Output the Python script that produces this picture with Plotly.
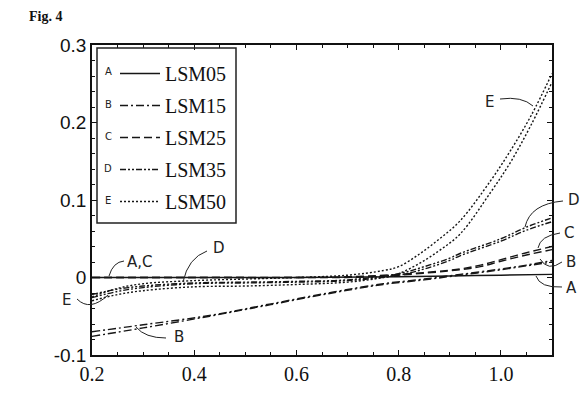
import plotly.graph_objects as go

# ---- data ----
x_A = [0.2, 0.4, 0.6, 0.8, 0.9, 1.0, 1.1]
y_A = [0.0, 0.0, 0.0, 0.001, 0.002, 0.003, 0.004]

x_B = [0.2, 0.3, 0.43, 0.55, 0.67, 0.77, 0.85, 0.92, 1.0, 1.05, 1.1]
y_B1 = [-0.070, -0.061, -0.049, -0.034, -0.019, -0.008, -0.002, 0.004, 0.011, 0.016, 0.022]
y_B2 = [-0.076, -0.065, -0.050, -0.035, -0.020, -0.009, -0.003, 0.003, 0.010, 0.015, 0.020]

x_C = [0.2, 0.4, 0.6, 0.7, 0.8, 0.92, 0.96, 1.0, 1.05, 1.1]
y_C1 = [0.0, 0.0, 0.0, 0.001, 0.004, 0.011, 0.016, 0.023, 0.032, 0.040]
y_C2 = [0.0, 0.0, 0.0, 0.000, 0.003, 0.010, 0.014, 0.021, 0.029, 0.036]

x_D = [0.2, 0.25, 0.3, 0.4, 0.5, 0.6, 0.7, 0.8, 0.85, 0.9, 0.92, 1.0, 1.05, 1.1]
y_D1 = [-0.022, -0.015, -0.011, -0.007, -0.006, -0.005, -0.003, 0.005, 0.014, 0.025, 0.031, 0.050, 0.065, 0.077]
y_D2 = [-0.026, -0.018, -0.013, -0.008, -0.007, -0.006, -0.004, 0.003, 0.011, 0.022, 0.028, 0.047, 0.061, 0.072]

x_E = [0.2, 0.25, 0.3, 0.4, 0.5, 0.6, 0.7, 0.77, 0.8, 0.84, 0.88, 0.92, 0.98, 1.02, 1.06, 1.1]
y_E1 = [-0.025, -0.014, -0.008, -0.004, -0.002, 0.000, 0.003, 0.009, 0.014, 0.030, 0.050, 0.073, 0.125, 0.165, 0.210, 0.263]
y_E2 = [-0.030, -0.022, -0.017, -0.012, -0.011, -0.009, -0.006, 0.000, 0.005, 0.018, 0.035, 0.056, 0.110, 0.150, 0.198, 0.252]

legend_names = ["LSM05", "LSM15", "LSM25", "LSM35", "LSM50"]
letters = ["A", "B", "C", "D", "E"]
dashes = ["solid", "8px,3px,2px,3px", "8px,4px", "6px,2px,2px,2px,2px,2px", "2px,2px"]

x_ticks = [0.2, 0.4, 0.6, 0.8, 1.0]
x_tick_text = ["0.2", "0.4", "0.6", "0.8", "1.0"]
y_ticks = [-0.1, 0, 0.1, 0.2, 0.3]
y_tick_text = ["-0.1", "0", "0.1", "0.2", "0.3"]

series = [
    (x_A, [y_A]),
    (x_B, [y_B1, y_B2]),
    (x_C, [y_C1, y_C2]),
    (x_D, [y_D1, y_D2]),
    (x_E, [y_E1, y_E2]),
]

# ---- layout geometry ----
W, H = 587, 401
L, R, T, B = 92, 35, 45, 46
PW, PH = W - L - R, H - T - B

def px(xp):
    return (xp - L) / PW

def py(yp):
    return (H - B - yp) / PH

fig = go.Figure()
LC = "#161616"
for i, (xs, ys_list) in enumerate(series):
    for j, ys in enumerate(ys_list):
        fig.add_trace(go.Scatter(
            x=xs, y=ys, mode="lines", name=legend_names[i],
            legendgroup=legend_names[i], showlegend=(j == 0),
            line=dict(color=LC, width=1.4, dash=dashes[i]),
            line_shape="spline",
        ))

hand_font = dict(family="DejaVu Sans", size=15, color="#222")
shapes = []
annos = []

# legend box
shapes.append(dict(type="rect", xref="paper", yref="paper",
                   x0=px(97), x1=px(236), y0=py(223), y1=py(48),
                   line=dict(color="#222", width=1.5)))
row_y = [72, 104, 136, 168, 200]
for k, lt in enumerate(letters):
    annos.append(dict(xref="paper", yref="paper", x=px(108), y=py(row_y[k]),
                      text=lt, showarrow=False, xanchor="center", yanchor="middle",
                      font=dict(family="DejaVu Sans", size=10, color="#222")))

# handwritten labels and leader curves
labels = [
    ("A,C", 140, 262), ("D", 219, 248), ("E", 66, 300), ("B", 179, 337),
    ("E", 489, 102), ("D", 574, 200), ("C", 569, 233), ("B", 571, 262), ("A", 571, 288),
]
for t, xx, yy in labels:
    annos.append(dict(xref="paper", yref="paper", x=px(xx), y=py(yy), text=t,
                      showarrow=False, xanchor="center", yanchor="middle", font=hand_font))

leaders = [
    ((124, 261), (113, 262), (109, 276)),
    ((207, 251), (188, 258), (183, 282)),
    ((77, 299), (90, 312), (108, 295)),
    ((166, 338), (145, 338), (136, 327)),
    ((500, 99), (522, 96), (533, 106)),
    ((563, 201), (530, 204), (525, 227)),
    ((560, 233), (540, 236), (538, 248)),
    ((562, 262), (548, 272), (540, 259)),
    ((562, 287), (540, 288), (536, 276)),
]
for (a, c, b) in leaders:
    path = "M {:.4f},{:.4f} Q {:.4f},{:.4f} {:.4f},{:.4f}".format(
        px(a[0]), py(a[1]), px(c[0]), py(c[1]), px(b[0]), py(b[1]))
    shapes.append(dict(type="path", xref="paper", yref="paper", path=path,
                       line=dict(color="#222", width=1)))

annos.append(dict(xref="paper", yref="paper", x=px(27), y=py(17), text="<b>Fig. 4</b>",
                  showarrow=False, xanchor="left", yanchor="middle",
                  font=dict(family="Liberation Serif", size=14, color="#111")))

fig.update_layout(
    width=W, height=H,
    margin=dict(l=L, r=R, t=T, b=B, pad=0),
    paper_bgcolor="white", plot_bgcolor="white",
    showlegend=True,
    legend=dict(x=px(115), y=py(54), xanchor="left", yanchor="top",
                bgcolor="rgba(0,0,0,0)", borderwidth=0,
                font=dict(family="Liberation Serif", size=20, color="#111"),
                tracegroupgap=3, itemwidth=40),
    shapes=shapes, annotations=annos,
    xaxis=dict(range=[0.2, 1.1], tickmode="array", tickvals=x_ticks, ticktext=x_tick_text,
               showgrid=False, zeroline=False, showline=True, linecolor="#111", linewidth=1.5,
               mirror="allticks", ticks="inside", ticklen=5, tickcolor="#111",
               minor=dict(dtick=0.05, tick0=0.2, ticks="inside", ticklen=3, tickcolor="#111"),
               tickfont=dict(family="Liberation Serif", size=20, color="#111")),
    yaxis=dict(range=[-0.1, 0.3], tickmode="array", tickvals=y_ticks, ticktext=y_tick_text,
               showgrid=False, zeroline=False, showline=True, linecolor="#111", linewidth=1.5,
               mirror="allticks", ticks="inside", ticklen=5, tickcolor="#111",
               minor=dict(dtick=0.02, tick0=-0.1, ticks="inside", ticklen=3, tickcolor="#111"),
               tickfont=dict(family="Liberation Sans", size=19, color="#111")),
)

fig.write_html("out.html")
